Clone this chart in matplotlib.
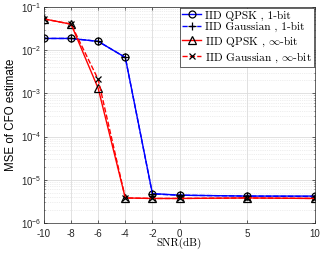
import matplotlib
matplotlib.use("Agg")
import matplotlib.pyplot as plt
from matplotlib.ticker import LogLocator, NullFormatter

snr = [-10, -8, -6, -4, -2, 0, 5, 10]
qpsk_1bit = [0.0187, 0.0187, 0.0160, 0.0068, 4.8e-6, 4.4e-6, 4.2e-6, 4.2e-6]
gauss_1bit = [0.0187, 0.0187, 0.0160, 0.0068, 4.7e-6, 4.4e-6, 4.2e-6, 4.1e-6]
qpsk_inf = [0.053, 0.040, 0.0013, 3.8e-6, 3.7e-6, 3.7e-6, 3.8e-6, 3.7e-6]
gauss_inf = [0.053, 0.040, 0.0021, 3.8e-6, 3.7e-6, 3.7e-6, 3.8e-6, 3.7e-6]
labels = ["IID QPSK , 1-bit", "IID Gaussian , 1-bit",
          r"IID QPSK , $\infty$-bit", r"IID Gaussian , $\infty$-bit"]
xticks = [-10, -8, -6, -4, -2, 0, 5, 10]

plt.rcParams['font.family'] = ['Liberation Sans', 'DejaVu Sans']
plt.rcParams['mathtext.fontset'] = 'custom'
plt.rcParams['mathtext.rm'] = 'Liberation Sans'
plt.rcParams['mathtext.it'] = 'Liberation Sans'

fig = plt.figure(figsize=(3.29, 2.61), dpi=100)
ax = fig.add_axes([44/329, 1-223/261, (315-44)/329, (223-7)/261])

lw = 1.0
ax.plot(snr, qpsk_1bit, '-', color='#0000ff', lw=lw, marker='o', ms=5,
        mfc='none', mec='black', mew=0.9, label=labels[0])
ax.plot(snr, gauss_1bit, '--', color='#0000ff', lw=lw, marker='+', ms=6,
        mec='black', mew=0.9, label=labels[1])
ax.plot(snr, qpsk_inf, '-', color='#ff0000', lw=lw, marker='^', ms=5.5,
        mfc='none', mec='black', mew=0.9, label=labels[2])
ax.plot(snr, gauss_inf, '--', color='#ff0000', lw=lw, marker='x', ms=4.5,
        mec='black', mew=0.9, label=labels[3])

ax.set_yscale('log')
ax.set_ylim(1e-6, 1e-1)
ax.set_xlim(-10, 10)
ax.set_xticks(xticks)
ax.set_xticklabels([str(v) for v in xticks])
ax.yaxis.set_major_locator(LogLocator(base=10, numticks=10))
ax.yaxis.set_minor_locator(LogLocator(base=10, subs=range(2, 10), numticks=20))
ax.yaxis.set_minor_formatter(NullFormatter())

ax.grid(True, which='major', color='#dcdcdc', lw=0.6, ls='-')
ax.grid(True, which='minor', axis='y', color='#dedede', lw=0.5, ls=':')
ax.set_axisbelow(True)

ax.tick_params(axis='both', which='both', direction='in', labelsize=7,
               top=True, right=True, length=2, width=0.5, colors='#262626')
ax.tick_params(axis='y', which='major', pad=2)
ax.tick_params(axis='x', which='major', pad=4.5)
ax.tick_params(axis='y', which='minor', length=1)
for s in ax.spines.values():
    s.set_color('#262626')
    s.set_linewidth(0.5)

ax.set_ylabel('MSE of CFO estimate', fontsize=8.3, labelpad=2.5)
xl = ax.set_xlabel('SNR(dB)', fontsize=8, family=['cmr10', 'DejaVu Serif'], labelpad=-1)

leg = ax.legend(loc='upper right', prop={'family': ['cmr10', 'DejaVu Serif'], 'size': 8.2},
                handlelength=1.7, handletextpad=0.3, labelspacing=0.15,
                borderpad=0.2, borderaxespad=0.1, fancybox=False, framealpha=1)
leg.get_frame().set_edgecolor('#262626')
leg.get_frame().set_linewidth(0.5)
for t in leg.get_texts():
    t.set_math_fontfamily('cm')

fig.savefig('out.png', dpi=100)
